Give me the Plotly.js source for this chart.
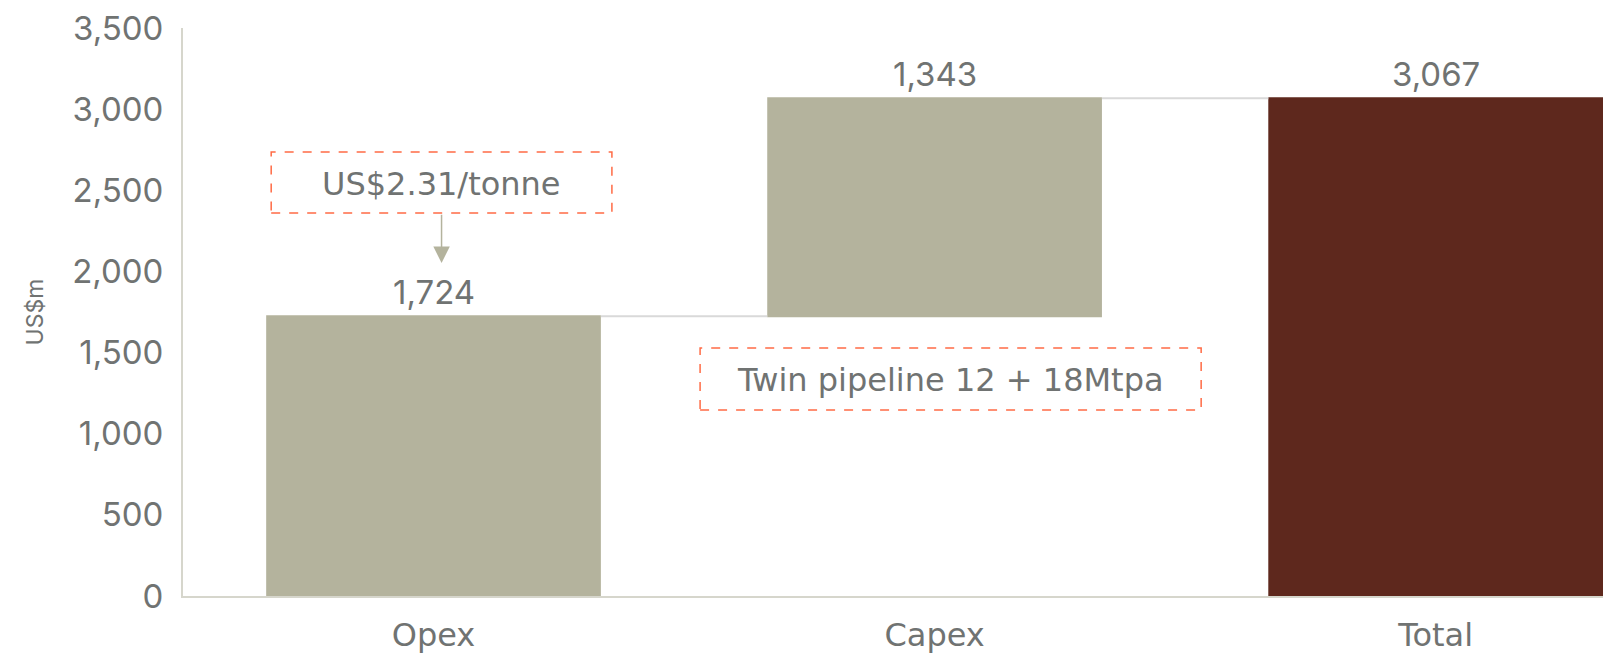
<!DOCTYPE html>
<html>
<head>
<meta charset="utf-8">
<script src="https://cdn.plot.ly/plotly-3.0.1.min.js"></script>
<style>html,body{margin:0;padding:0;background:#fff;}#chart{width:1605px;height:659px;}</style>
</head>
<body>
<div id="chart"></div>
<script>
// Data
var categories = ['Opex', 'Capex', 'Total'];
var values = [1724, 1343, 3067];
var measures = ['relative', 'relative', 'total'];
var yTickVals = [0, 500, 1000, 1500, 2000, 2500, 3000, 3500];
var noteOpex = 'US$2.31/tonne';
var noteCapex = 'Twin pipeline 12 + 18Mtpa';

var NUMFONT = 'Inter, sans-serif';
var TXTFONT = '"DejaVu Sans", sans-serif';
var GREY = '#707372';
var BAR = '#B4B39D';
var TOTAL = '#5E281D';
var ORANGE = '#FF6B45';

var labels = values.map(function (v) { return v.toLocaleString('en-US'); });

// running tops for label placement
var tops = [];
var run = 0;
values.forEach(function (v, i) {
  if (measures[i] === 'total') { run = v; } else { run += v; }
  tops.push(run);
});

var trace = {
  type: 'waterfall',
  x: categories,
  y: values,
  measure: measures,
  textposition: 'none',
  increasing: {marker: {color: BAR}},
  decreasing: {marker: {color: BAR}},
  totals: {marker: {color: TOTAL}},
  connector: {mode: 'between', line: {color: '#d9d9d9', width: 2}},
  width: [0.668, 0.668, 0.668],
  hoverinfo: 'none'
};

var annotations = categories.map(function (c, i) {
  return {xref: 'x', yref: 'y', x: c, y: tops[i], text: labels[i], showarrow: false,
          yanchor: 'bottom', yshift: 2, font: {family: NUMFONT, size: 33, color: GREY}};
});
annotations.push(
  {xref: 'x', yref: 'y', x: 0.016, y: 2540, text: noteOpex, showarrow: false,
   font: {family: TXTFONT, size: 32, color: GREY}},
  {xref: 'x', yref: 'y', x: 1.032, y: 1330, text: noteCapex, showarrow: false,
   font: {family: TXTFONT, size: 32, color: GREY}},
  {xref: 'x', yref: 'y', axref: 'x', ayref: 'y', x: 0.016, y: 2052, ax: 0.016, ay: 2358,
   text: '', showarrow: true, arrowhead: 2, arrowsize: 2.2, arrowwidth: 1.5, arrowcolor: BAR}
);

var layout = {
  width: 1605,
  height: 659,
  margin: {l: 183, r: 2, t: 28, b: 63},
  paper_bgcolor: '#ffffff',
  plot_bgcolor: '#ffffff',
  showlegend: false,
  font: {family: NUMFONT, color: GREY},
  xaxis: {
    range: [-0.5, 2.334],
    showline: true, linecolor: '#d6d6cc', linewidth: 2,
    showgrid: false, zeroline: false,
    ticks: '', tickfont: {family: TXTFONT, size: 32, color: GREY},
    ticklabelstandoff: 10
  },
  yaxis: {
    range: [0, 3500],
    tickvals: yTickVals,
    tickformat: ',',
    showline: true, linecolor: '#d6d6cc', linewidth: 2,
    showgrid: false, zeroline: false,
    ticks: '', tickfont: {family: NUMFONT, size: 33, color: GREY},
    ticklabelstandoff: 11,
    title: {text: 'US$m', font: {family: NUMFONT, size: 23, color: GREY}, standoff: 22}
  },
  shapes: [
    {type: 'rect', xref: 'x', yref: 'y', x0: -0.324, x1: 0.356, y0: 2360, y1: 2736,
     line: {color: ORANGE, width: 1.5, dash: 'dash'}, fillcolor: 'rgba(0,0,0,0)'},
    {type: 'rect', xref: 'x', yref: 'y', x0: 0.532, x1: 1.532, y0: 1146, y1: 1528,
     line: {color: ORANGE, width: 1.5, dash: 'dash'}, fillcolor: 'rgba(0,0,0,0)'}
  ],
  annotations: annotations
};

Plotly.newPlot('chart', [trace], layout, {displayModeBar: false, staticPlot: true});
</script>
</body>
</html>
